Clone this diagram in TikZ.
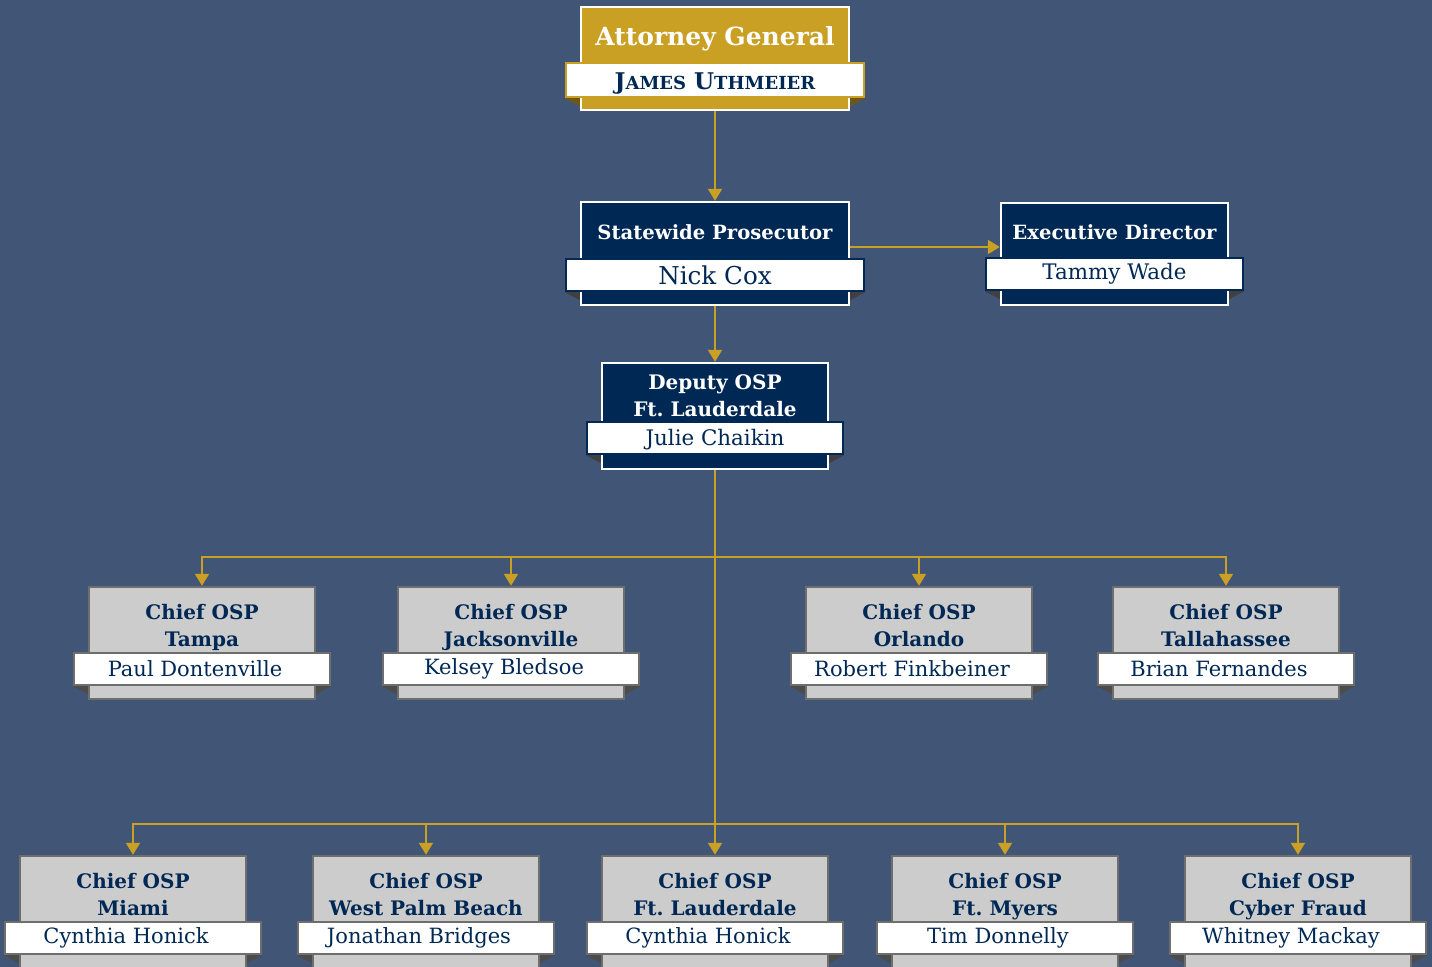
\documentclass[tikz,border=0pt]{standalone}
\usepackage{fontspec}
\setmainfont{DejaVu Serif}
\usetikzlibrary{positioning, arrows.meta}
\frenchspacing
\definecolor{slate}{RGB}{65,85,118}
\definecolor{osgold}{RGB}{201,160,35}
\definecolor{osnavy}{RGB}{0,40,85}
\definecolor{osgray}{RGB}{204,204,204}
\definecolor{osedge}{RGB}{110,110,110}
\tikzset{
  agbox/.style={rectangle, draw=white, fill=osgold, line width=1.2pt,
                minimum width=134pt, minimum height=51.5pt},
  navybox/.style={rectangle, draw=white, fill=osnavy, line width=1.2pt},
  chiefbox/.style={rectangle, draw=osedge, fill=osgray, line width=1.2pt,
                   minimum width=113pt, minimum height=56pt},
  band/.style={rectangle, fill=white, line width=1.2pt, inner sep=0pt,
               text=osnavy, minimum height=16pt},
  agband/.style={band, draw=osgold, minimum width=149pt, minimum height=17pt},
  navyband/.style={band, draw=osnavy},
  chiefband/.style={band, draw=osedge, minimum width=128pt,
                    font=\fontsize{10.5}{12}\selectfont},
  toptitle/.style={inner sep=0pt, text=white, align=center,
                   font=\bfseries\fontsize{9.8}{13.5}\selectfont},
  chieftitle/.style={toptitle, text=osnavy,
                     font=\bfseries\fontsize{10}{13.5}\selectfont},
  agfold/.style={fill=osgold!55!black},
  navyfold/.style={fill=black!75},
  chieffold/.style={fill=black!70},
  arr/.style={-{Triangle[width=7pt,length=6pt]}, line width=1pt, color=osgold},
}
\begin{document}
\begin{tikzpicture}[x=0.5pt, y=-0.5pt]
  \fill[slate] (0,0) rectangle (1432,967);
  \useasboundingbox (0,0) rectangle (1432,967);

  % Attorney General
  \node[agbox] (ag) at (715,58.5) {};
  \node[toptitle, font=\bfseries\fontsize{12.5}{14}\selectfont] (ag-t)
        at ([yshift=-16.5pt]ag.north) {Attorney General};
  \node[agband, above=6.5pt of ag.south, text height=11.5pt,
        font=\bfseries\fontsize{11.5}{13}\selectfont] (ag-n)
        {J{\fontsize{9}{10}\selectfont AMES} U{\fontsize{9}{10}\selectfont THMEIER}};

  % Statewide Prosecutor and Executive Director
  \node[navybox, minimum width=134pt, minimum height=51.5pt] (sp) at (715,253.5) {};
  \node[toptitle] (sp-t) at ([yshift=-15.5pt]sp.north) {Statewide Prosecutor};
  \node[navyband, minimum width=149pt, above=7pt of sp.south,
        font=\fontsize{12.3}{14}\selectfont] (sp-n) {Nick Cox};
  \node[navybox, minimum width=113.5pt, minimum height=51pt] (ed) at (1114.5,254) {};
  \node[toptitle] (ed-t) at ([yshift=-15pt]ed.north) {Executive Director};
  \node[navyband, minimum width=128.5pt, above=7.5pt of ed.south,
        font=\fontsize{10.7}{12}\selectfont] (ed-n) {Tammy Wade};

  % Deputy
  \node[navybox, minimum width=113pt, minimum height=53pt] (dep) at (715,416) {};
  \node[toptitle, font=\bfseries\fontsize{10}{13.5}\selectfont] (dep-t)
        at ([yshift=-18pt]dep.north) {Deputy OSP\strut\\Ft. Lauderdale\strut};
  \node[navyband, minimum width=128pt, above=7.5pt of dep.south, text height=9.5pt,
        text depth=2pt, font=\fontsize{10.7}{12}\selectfont] (dep-n) {Julie Chaikin};

  \foreach \b/\f in {ag/agfold, sp/navyfold, ed/navyfold, dep/navyfold} {
    \fill[\f] (\b-n.south west) -- (\b-n.south west -| \b.west)
      -- ([yshift=-4pt]\b-n.south west -| \b.west) -- cycle;
    \fill[\f] (\b-n.south east) -- (\b-n.south east -| \b.east)
      -- ([yshift=-4pt]\b-n.south east -| \b.east) -- cycle;
  }

  % Chiefs
  \foreach \b/\x/\y/\city/\who in {
      tpa/202/643/Tampa/Paul Dontenville,
      jax/511/643/Jacksonville/Kelsey Bledsoe,
      orl/919/643/Orlando/Robert Finkbeiner,
      tlh/1226/643/Tallahassee/Brian Fernandes,
      mia/133/912/Miami/Cynthia Honick,
      wpb/426/912/West Palm Beach/Jonathan Bridges,
      ftl/715/912/Ft. Lauderdale/Cynthia Honick,
      ftm/1005/912/Ft. Myers/Tim Donnelly,
      cyb/1298/912/Cyber Fraud/Whitney Mackay} {
    \node[chiefbox] (\b) at (\x,\y) {};
    \node[chieftitle] (\b-t) at ([yshift=-21pt]\b.north) {Chief OSP\strut\\\city\strut};
    \node[chiefband, above=7pt of \b.south] (\b-n) {\who\kern7pt};
    \fill[chieffold] (\b-n.south west) -- (\b-n.south west -| \b.west)
      -- ([yshift=-4pt]\b-n.south west -| \b.west) -- cycle;
    \fill[chieffold] (\b-n.south east) -- (\b-n.south east -| \b.east)
      -- ([yshift=-4pt]\b-n.south east -| \b.east) -- cycle;
  }

  % connectors
  \coordinate (bus1) at (715,557);
  \coordinate (bus2) at (715,824);
  \draw[arr] (ag) -- (sp);
  \draw[arr] ([yshift=3.25pt]sp.east) -- ([yshift=3.5pt]ed.west);
  \draw[arr] (sp) -- (dep);
  \draw[arr] (dep) -- (ftl);
  \foreach \b in {tpa, jax, orl, tlh} \draw[arr] (bus1) -| (\b);
  \foreach \b in {mia, wpb, ftm, cyb} \draw[arr] (bus2) -| (\b);
\end{tikzpicture}
\end{document}
